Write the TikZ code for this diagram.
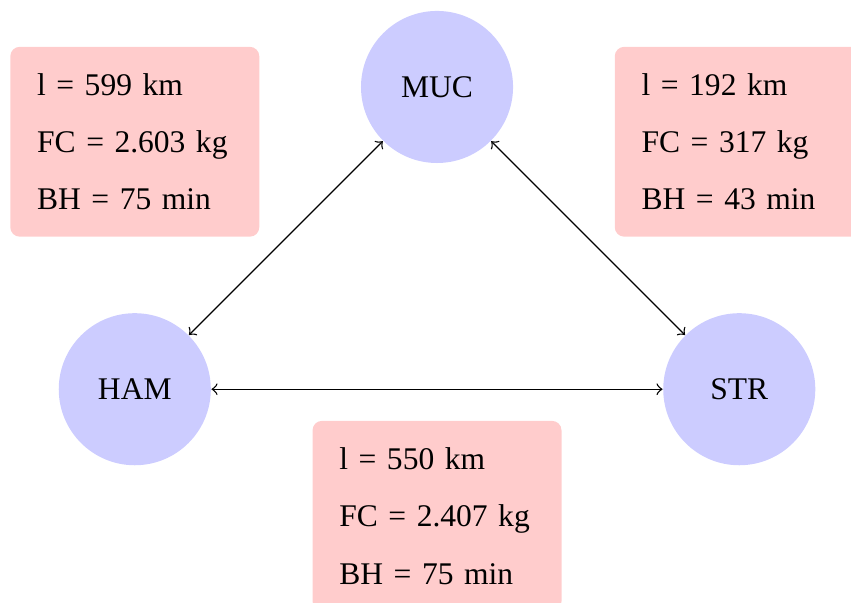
\documentclass[tikz,border=0pt]{standalone}
\usepackage{fontspec}
\setmainfont{Liberation Serif}
\begin{document}
\begin{tikzpicture}[
        city/.style={circle,fill=blue!20,minimum size=1.61cm,inner sep=0pt,font={\fontsize{9.5}{11}\selectfont}},
        info/.style={rectangle,rounded corners=1mm,fill=red!20,align=left,text width=58.8pt,inner xsep=8.1pt,minimum height=2.01cm,font={\fontsize{9.5}{17.3}\selectfont}},
        link/.style={<->,thin}
      ]
      \useasboundingbox (-4.627,-5.463) rectangle (4.383,0.921);
      \node[city] (muc) at (0,0) {MUC};
      \node[city] (ham) at (-3.2,-3.2) {HAM};
      \node[city] (str) at (3.2,-3.2) {STR};
      \node[info] (hammuc) at (-3.2,-0.58) {l = 599 km\\FC = 2.603 kg\\BH = 75 min};
      \node[info] (mucstr) at (3.2,-0.58) {l = 192 km\\FC = 317 kg\\BH = 43 min};
      \node[info] (hamstr) at (0,-4.54) {l = 550 km\\FC = 2.407 kg\\BH = 75 min};
      \draw[link] (ham) -- (muc);
      \draw[link] (muc) -- (str);
      \draw[link] (ham) -- (str);
    \end{tikzpicture}
\end{document}
